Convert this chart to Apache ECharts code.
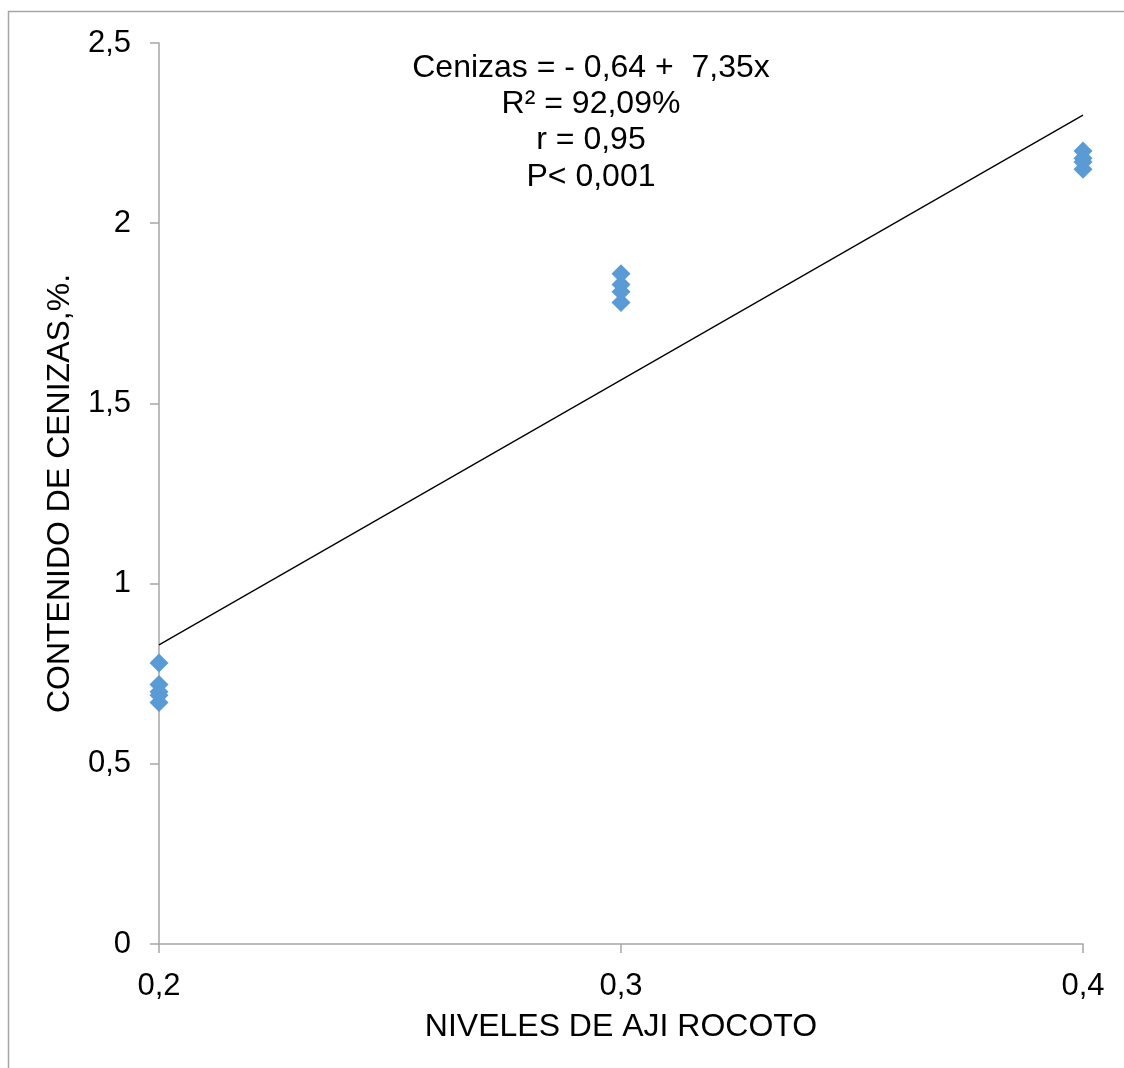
<!DOCTYPE html>
<html>
<head>
<meta charset="utf-8">
<script src="https://cdn.jsdelivr.net/npm/echarts@6/dist/echarts.min.js"></script>
<style>
html,body{margin:0;padding:0;background:#fff;}
#chart{width:1124px;height:1068px;}
</style>
</head>
<body>
<div id="chart"></div>
<script>
// Data
var xLevels = [0.2, 0.3, 0.4];
var valuesAt02 = [0.78, 0.72, 0.70, 0.69, 0.67];
var valuesAt03 = [1.86, 1.83, 1.81, 1.78];
var valuesAt04 = [2.20, 2.18, 2.17, 2.15];
var trendX = [0.2, 0.4];
var trendY = [0.83, 2.30];
var annotationLines = ['Cenizas = - 0,64 +  7,35x', 'R² = 92,09%', 'r = 0,95', 'P< 0,001'];
var xTitle = 'NIVELES DE AJI ROCOTO';
var yTitle = 'CONTENIDO DE CENIZAS,%.';

var scatterData = [];
[valuesAt02, valuesAt03, valuesAt04].forEach(function (arr, i) {
  arr.forEach(function (v) { scatterData.push([xLevels[i], v]); });
});
var lineData = trendX.map(function (x, i) { return [x, trendY[i]]; });

var FONT = 'Liberation Sans, Arial, sans-serif';
var axisGray = '#A6A6A6';
var chart = echarts.init(document.getElementById('chart'));

var graphics = [{
  type: 'rect',
  shape: { x: 8.5, y: 11.5, width: 1200, height: 1200 },
  style: { fill: 'none', stroke: '#A6A6A6', lineWidth: 1.5 },
  silent: true, z: 0
}];
annotationLines.forEach(function (t, i) {
  graphics.push({
    type: 'text',
    x: 591, y: 68 + i * 36.3,
    style: { text: t, font: '32px ' + FONT, fill: '#000', textAlign: 'center', textVerticalAlign: 'middle' },
    z: 10
  });
});

chart.setOption({
  animation: false,
  backgroundColor: '#fff',
  grid: { left: 159, right: 41, top: 43, bottom: 124, containLabel: false },
  xAxis: {
    type: 'value', min: 0.2, max: 0.4, interval: 0.1,
    name: xTitle, nameLocation: 'middle', nameGap: 67,
    nameTextStyle: { fontFamily: FONT, fontSize: 32, color: '#000' },
    axisLine: { show: true, lineStyle: { color: axisGray, width: 1.5 } },
    axisTick: { show: true, length: 9, lineStyle: { color: axisGray, width: 1.5 } },
    axisLabel: { margin: 27, fontFamily: FONT, fontSize: 31, color: '#000',
      formatter: function (v) { return v.toFixed(1).replace('.', ','); } },
    splitLine: { show: false }
  },
  yAxis: {
    type: 'value', min: 0, max: 2.5, interval: 0.5,
    name: yTitle, nameLocation: 'middle', nameGap: 83,
    nameTextStyle: { fontFamily: FONT, fontSize: 32, color: '#000' },
    axisLine: { show: true, lineStyle: { color: axisGray, width: 1.5 } },
    axisTick: { show: true, length: 9, lineStyle: { color: axisGray, width: 1.5 } },
    axisLabel: { margin: 28, fontFamily: FONT, fontSize: 31, color: '#000',
      formatter: function (v) { return String(v).replace('.', ','); } },
    splitLine: { show: false }
  },
  series: [
    {
      type: 'line', data: lineData, symbol: 'none',
      lineStyle: { color: '#000', width: 1.3 }, z: 3
    },
    {
      type: 'scatter', data: scatterData, symbol: 'diamond', symbolSize: 19,
      itemStyle: { color: '#5B9BD5', opacity: 1 }, z: 4
    }
  ],
  graphic: graphics
});
</script>
</body>
</html>
